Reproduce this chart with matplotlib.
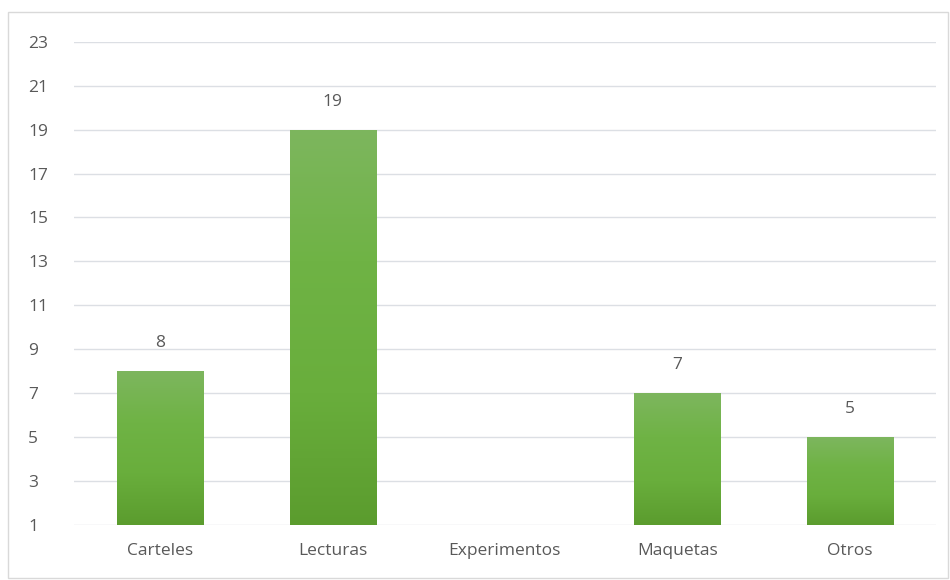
import numpy as np
import matplotlib
import matplotlib.pyplot as plt
from matplotlib.colors import LinearSegmentedColormap
from matplotlib.patches import Rectangle

matplotlib.use('Agg')

## Data
categories = ["Carteles", "Lecturas", "Experimentos", "Maquetas", "Otros"]
values = [8, 19, 0, 7, 5]
yticks = [1, 3, 5, 7, 9, 11, 13, 15, 17, 19, 21, 23]

plt.rcParams['font.family'] = ['Open Sans', 'DejaVu Sans']
textColor = '#595959'

fig = plt.figure(figsize=(9.5, 5.8), dpi=100)
ax = fig.add_axes([0.078, 0.095, 0.907, 0.833])

# outer chart border
fig.patches.append(Rectangle((8 / 950, 2 / 580), 940 / 950, 566 / 580, transform=fig.transFigure,
                             fill=False, edgecolor='#d9d9d9', linewidth=1))

x = np.arange(len(categories))
bars = ax.bar(x, values, width=0.5, bottom=0, color='none', zorder=3)

# vertical gradient fill for each bar
grad = LinearSegmentedColormap.from_list('g', ['#5b9c2e', '#69ae3c', '#6fb345', '#7db65e'])
gradImg = np.linspace(0, 1, 256).reshape(-1, 1)
for b in bars:
    if b.get_height() <= 1:
        continue
    x0, w = b.get_x(), b.get_width()
    im = ax.imshow(gradImg, cmap=grad, origin='lower', aspect='auto',
                   extent=(x0, x0 + w, 1, b.get_height()), zorder=3)
    im.set_clip_path(b)

for xi, v in zip(x, values):
    if v > 1:
        ax.text(xi, v + 0.9, str(v), ha='center', va='bottom', fontsize=12.5, color=textColor)

ax.set_xlim(-0.5, len(categories) - 0.5)
ax.set_ylim(1, 23)
ax.set_yticks(yticks)
ax.set_xticks(x)
ax.set_xticklabels(categories)
ax.tick_params(axis='both', length=0, labelsize=12.5, labelcolor=textColor)
ax.tick_params(axis='y', pad=33)
ax.tick_params(axis='x', pad=13)
for lbl in ax.get_yticklabels():
    lbl.set_horizontalalignment('left')

ax.grid(axis='y', color='#dcdfe4', linewidth=1, zorder=0)
ax.set_axisbelow(True)
for s in ax.spines.values():
    s.set_visible(False)

fig.savefig('out.png', dpi=100)
plt.close()
